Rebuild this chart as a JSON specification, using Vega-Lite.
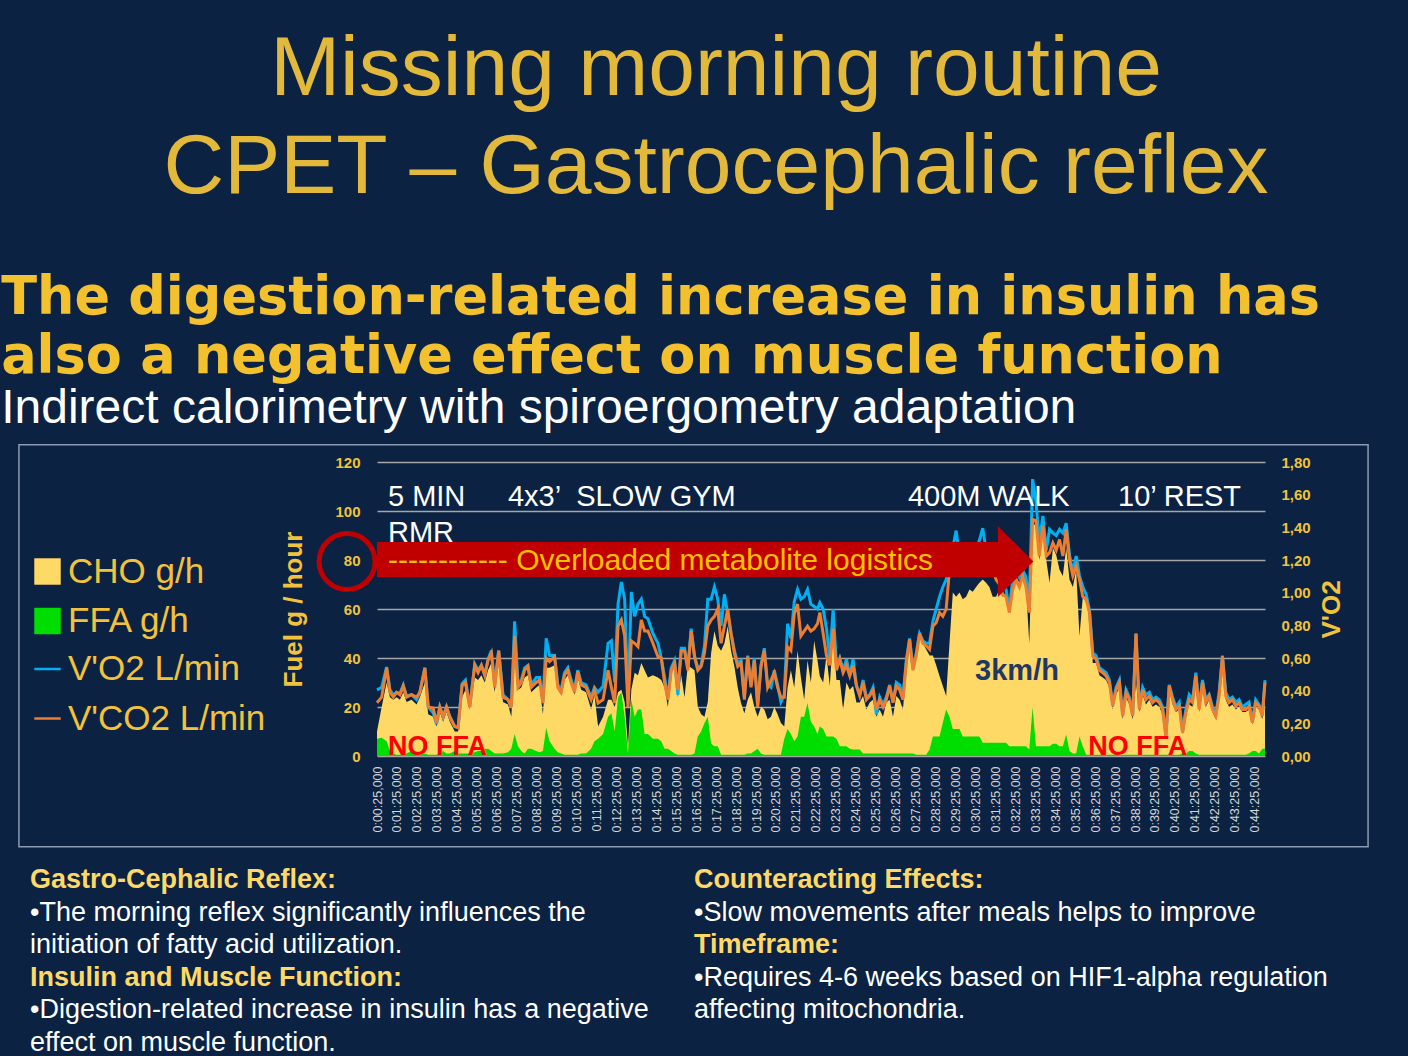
{
  "$schema": "https://vega.github.io/schema/vega-lite/v6.json",
  "background": "#0b2243",
  "padding": {"left": 1, "top": 27, "right": 40, "bottom": 10},
  "config": {
    "view": {"stroke": null},
    "font": "Liberation Sans",
    "axisX": {"labelOverlap": false},
    "axisY": {"labelOverlap": false}
  },
  "title": {
    "text": ["Missing morning routine", "CPET – Gastrocephalic reflex"],
    "font": "Liberation Sans", "fontSize": 84, "fontWeight": "normal", "color": "#e2b93b",
    "lineHeight": 98, "anchor": "middle", "offset": 61, "dx": 31
  },
  "datasets": {
    "fuel": [
      {"t":25,"cho":10,"ffa":7,"vo2":0.405,"vco2":0.326},
      {"t":39,"cho":20,"ffa":7.5,"vo2":0.42,"vco2":0.36},
      {"t":54,"cho":30,"ffa":6,"vo2":0.545,"vco2":0.54},
      {"t":64,"cho":24,"ffa":2,"vo2":0.405,"vco2":0.39},
      {"t":74,"cho":23,"ffa":1,"vo2":0.375,"vco2":0.36},
      {"t":84,"cho":24,"ffa":0.5,"vo2":0.39,"vco2":0.39},
      {"t":94,"cho":23,"ffa":0.5,"vo2":0.383,"vco2":0.375},
      {"t":104,"cho":26,"ffa":0.5,"vo2":0.435,"vco2":0.428},
      {"t":114,"cho":22,"ffa":1,"vo2":0.368,"vco2":0.36},
      {"t":129,"cho":23,"ffa":2,"vo2":0.375,"vco2":0.375},
      {"t":144,"cho":21,"ffa":1.5,"vo2":0.345,"vco2":0.36},
      {"t":154,"cho":24,"ffa":1,"vo2":0.39,"vco2":0.39},
      {"t":169,"cho":30,"ffa":1,"vo2":0.54,"vco2":0.54},
      {"t":179,"cho":17,"ffa":0.5,"vo2":0.3,"vco2":0.3},
      {"t":194,"cho":16,"ffa":0.5,"vo2":0.264,"vco2":0.294},
      {"t":204,"cho":12,"ffa":0.5,"vo2":0.195,"vco2":0.203},
      {"t":214,"cho":18,"ffa":1,"vo2":0.3,"vco2":0.3},
      {"t":224,"cho":14,"ffa":2,"vo2":0.24,"vco2":0.24},
      {"t":234,"cho":18,"ffa":1,"vo2":0.3,"vco2":0.3},
      {"t":244,"cho":14,"ffa":1,"vo2":0.24,"vco2":0.24},
      {"t":259,"cho":10,"ffa":2,"vo2":0.18,"vco2":0.18},
      {"t":269,"cho":10,"ffa":1,"vo2":0.173,"vco2":0.173},
      {"t":281,"cho":24,"ffa":1,"vo2":0.443,"vco2":0.435},
      {"t":291,"cho":27,"ffa":1,"vo2":0.465,"vco2":0.45},
      {"t":304,"cho":19,"ffa":1,"vo2":0.3,"vco2":0.3},
      {"t":319,"cho":32,"ffa":1.5,"vo2":0.563,"vco2":0.555},
      {"t":329,"cho":31,"ffa":2,"vo2":0.525,"vco2":0.51},
      {"t":339,"cho":33,"ffa":2,"vo2":0.555,"vco2":0.555},
      {"t":349,"cho":30,"ffa":3,"vo2":0.495,"vco2":0.495},
      {"t":359,"cho":35,"ffa":3,"vo2":0.593,"vco2":0.585},
      {"t":369,"cho":38,"ffa":2,"vo2":0.645,"vco2":0.63},
      {"t":379,"cho":26,"ffa":1,"vo2":0.435,"vco2":0.42},
      {"t":391,"cho":39,"ffa":1,"vo2":0.645,"vco2":0.645},
      {"t":404,"cho":22,"ffa":1,"vo2":0.375,"vco2":0.36},
      {"t":419,"cho":21,"ffa":1.5,"vo2":0.345,"vco2":0.345},
      {"t":429,"cho":16,"ffa":3,"vo2":0.3,"vco2":0.3},
      {"t":439,"cho":40,"ffa":9,"vo2":0.825,"vco2":0.735},
      {"t":449,"cho":27,"ffa":4,"vo2":0.45,"vco2":0.42},
      {"t":459,"cho":28,"ffa":2,"vo2":0.465,"vco2":0.45},
      {"t":469,"cho":32,"ffa":1,"vo2":0.54,"vco2":0.525},
      {"t":479,"cho":33,"ffa":3,"vo2":0.555,"vco2":0.548},
      {"t":489,"cho":26,"ffa":3,"vo2":0.435,"vco2":0.42},
      {"t":504,"cho":28,"ffa":2,"vo2":0.48,"vco2":0.45},
      {"t":514,"cho":29,"ffa":1.5,"vo2":0.48,"vco2":0.465},
      {"t":524,"cho":17,"ffa":2,"vo2":0.33,"vco2":0.324},
      {"t":534,"cho":36,"ffa":11.5,"vo2":0.72,"vco2":0.6},
      {"t":544,"cho":36,"ffa":6,"vo2":0.615,"vco2":0.578},
      {"t":559,"cho":37,"ffa":3,"vo2":0.615,"vco2":0.608},
      {"t":569,"cho":27,"ffa":1.5,"vo2":0.435,"vco2":0.42},
      {"t":579,"cho":25,"ffa":1,"vo2":0.405,"vco2":0.39},
      {"t":589,"cho":31,"ffa":0.5,"vo2":0.51,"vco2":0.495},
      {"t":599,"cho":33,"ffa":0.5,"vo2":0.54,"vco2":0.525},
      {"t":609,"cho":29,"ffa":0.5,"vo2":0.465,"vco2":0.45},
      {"t":619,"cho":25,"ffa":0.5,"vo2":0.405,"vco2":0.39},
      {"t":629,"cho":32,"ffa":0.5,"vo2":0.525,"vco2":0.518},
      {"t":639,"cho":27,"ffa":1,"vo2":0.45,"vco2":0.435},
      {"t":654,"cho":26,"ffa":1,"vo2":0.435,"vco2":0.42},
      {"t":669,"cho":19,"ffa":3,"vo2":0.36,"vco2":0.345},
      {"t":679,"cho":25,"ffa":6,"vo2":0.42,"vco2":0.405},
      {"t":690,"cho":12,"ffa":7,"vo2":0.39,"vco2":0.324},
      {"t":705,"cho":16,"ffa":9,"vo2":0.428,"vco2":0.345},
      {"t":720,"cho":23,"ffa":16,"vo2":0.69,"vco2":0.525},
      {"t":730,"cho":23,"ffa":17.5,"vo2":0.705,"vco2":0.42},
      {"t":740,"cho":20,"ffa":10,"vo2":0.45,"vco2":0.324},
      {"t":750,"cho":26,"ffa":24,"vo2":0.93,"vco2":0.795},
      {"t":760,"cho":27,"ffa":26,"vo2":1.065,"vco2":0.833},
      {"t":770,"cho":22,"ffa":16,"vo2":0.96,"vco2":0.735},
      {"t":780,"cho":4,"ffa":1,"vo2":0.345,"vco2":0.3},
      {"t":790,"cho":27,"ffa":23,"vo2":1.005,"vco2":0.705},
      {"t":800,"cho":34,"ffa":16,"vo2":0.855,"vco2":0.69},
      {"t":810,"cho":33,"ffa":19,"vo2":0.93,"vco2":0.669},
      {"t":820,"cho":38,"ffa":19,"vo2":0.96,"vco2":0.833},
      {"t":830,"cho":35,"ffa":9,"vo2":0.855,"vco2":0.765},
      {"t":840,"cho":32,"ffa":9,"vo2":0.84,"vco2":0.765},
      {"t":855,"cho":33,"ffa":7,"vo2":0.75,"vco2":0.69},
      {"t":870,"cho":32,"ffa":7,"vo2":0.69,"vco2":0.608},
      {"t":880,"cho":31,"ffa":6,"vo2":0.6,"vco2":0.6},
      {"t":890,"cho":28,"ffa":3,"vo2":0.48,"vco2":0.45},
      {"t":900,"cho":20,"ffa":3,"vo2":0.36,"vco2":0.345},
      {"t":910,"cho":34,"ffa":2,"vo2":0.54,"vco2":0.525},
      {"t":920,"cho":36,"ffa":1,"vo2":0.585,"vco2":0.57},
      {"t":930,"cho":24,"ffa":0.5,"vo2":0.375,"vco2":0.405},
      {"t":940,"cho":33,"ffa":0.5,"vo2":0.66,"vco2":0.645},
      {"t":950,"cho":24,"ffa":0.5,"vo2":0.66,"vco2":0.645},
      {"t":960,"cho":37,"ffa":0.5,"vo2":0.54,"vco2":0.525},
      {"t":970,"cho":36,"ffa":0.5,"vo2":0.78,"vco2":0.765},
      {"t":980,"cho":35,"ffa":1,"vo2":0.615,"vco2":0.608},
      {"t":990,"cho":20,"ffa":8,"vo2":0.54,"vco2":0.525},
      {"t":1000,"cho":17,"ffa":10,"vo2":0.555,"vco2":0.548},
      {"t":1010,"cho":16,"ffa":13.5,"vo2":0.675,"vco2":0.63},
      {"t":1020,"cho":22,"ffa":16,"vo2":0.96,"vco2":0.795},
      {"t":1030,"cho":42,"ffa":5,"vo2":0.96,"vco2":0.833},
      {"t":1040,"cho":51,"ffa":4,"vo2":1.035,"vco2":0.855},
      {"t":1050,"cho":45,"ffa":4,"vo2":0.96,"vco2":0.9},
      {"t":1060,"cho":43,"ffa":0.5,"vo2":0.795,"vco2":0.69},
      {"t":1070,"cho":46,"ffa":0.5,"vo2":0.99,"vco2":0.795},
      {"t":1080,"cho":53,"ffa":0.5,"vo2":0.87,"vco2":0.9},
      {"t":1090,"cho":43,"ffa":0.5,"vo2":0.75,"vco2":0.75},
      {"t":1100,"cho":36.5,"ffa":0.5,"vo2":0.645,"vco2":0.63},
      {"t":1110,"cho":28,"ffa":0.5,"vo2":0.57,"vco2":0.548},
      {"t":1120,"cho":21.6,"ffa":0.5,"vo2":0.585,"vco2":0.57},
      {"t":1130,"cho":17.5,"ffa":0.5,"vo2":0.36,"vco2":0.345},
      {"t":1140,"cho":23,"ffa":1,"vo2":0.615,"vco2":0.608},
      {"t":1150,"cho":26,"ffa":1,"vo2":0.435,"vco2":0.42},
      {"t":1160,"cho":20,"ffa":2,"vo2":0.6,"vco2":0.585},
      {"t":1170,"cho":16,"ffa":3,"vo2":0.315,"vco2":0.3},
      {"t":1180,"cho":20,"ffa":1,"vo2":0.555,"vco2":0.548},
      {"t":1190,"cho":19,"ffa":0.5,"vo2":0.66,"vco2":0.645},
      {"t":1200,"cho":15,"ffa":0.5,"vo2":0.435,"vco2":0.42},
      {"t":1210,"cho":16,"ffa":0.5,"vo2":0.42,"vco2":0.465},
      {"t":1220,"cho":20,"ffa":0.5,"vo2":0.525,"vco2":0.51},
      {"t":1230,"cho":17,"ffa":0.5,"vo2":0.435,"vco2":0.42},
      {"t":1240,"cho":13.5,"ffa":0.5,"vo2":0.33,"vco2":0.36},
      {"t":1250,"cho":12,"ffa":7,"vo2":0.375,"vco2":0.36},
      {"t":1260,"cho":28,"ffa":11,"vo2":0.81,"vco2":0.669},
      {"t":1270,"cho":35,"ffa":9,"vo2":0.72,"vco2":0.645},
      {"t":1280,"cho":28,"ffa":6,"vo2":0.945,"vco2":0.87},
      {"t":1290,"cho":43,"ffa":8,"vo2":1.02,"vco2":0.93},
      {"t":1300,"cho":32,"ffa":16,"vo2":0.96,"vco2":0.735},
      {"t":1310,"cho":23,"ffa":16,"vo2":0.975,"vco2":0.765},
      {"t":1320,"cho":39,"ffa":21.6,"vo2":1.02,"vco2":0.795},
      {"t":1330,"cho":30,"ffa":14,"vo2":0.93,"vco2":0.765},
      {"t":1340,"cho":47,"ffa":12,"vo2":0.915,"vco2":0.78},
      {"t":1350,"cho":39,"ffa":9,"vo2":0.9,"vco2":0.81},
      {"t":1357,"cho":32.6,"ffa":12,"vo2":0.939,"vco2":0.878},
      {"t":1367,"cho":30,"ffa":11,"vo2":0.9,"vco2":0.75},
      {"t":1377,"cho":41,"ffa":8,"vo2":0.78,"vco2":0.615},
      {"t":1387,"cho":28.6,"ffa":8,"vo2":0.593,"vco2":0.555},
      {"t":1397,"cho":50,"ffa":8,"vo2":0.9,"vco2":0.78},
      {"t":1407,"cho":31,"ffa":7,"vo2":0.555,"vco2":0.525},
      {"t":1417,"cho":31,"ffa":4,"vo2":0.6,"vco2":0.593},
      {"t":1427,"cho":19,"ffa":4,"vo2":0.525,"vco2":0.51},
      {"t":1437,"cho":30,"ffa":4,"vo2":0.593,"vco2":0.555},
      {"t":1447,"cho":27,"ffa":3,"vo2":0.495,"vco2":0.49},
      {"t":1457,"cho":28.6,"ffa":2.7,"vo2":0.593,"vco2":0.555},
      {"t":1467,"cho":21.8,"ffa":2.7,"vo2":0.435,"vco2":0.429},
      {"t":1477,"cho":21.8,"ffa":2.7,"vo2":0.375,"vco2":0.368},
      {"t":1487,"cho":24.5,"ffa":1,"vo2":0.465,"vco2":0.45},
      {"t":1497,"cho":19,"ffa":1,"vo2":0.36,"vco2":0.345},
      {"t":1507,"cho":21.8,"ffa":1,"vo2":0.375,"vco2":0.368},
      {"t":1517,"cho":23,"ffa":1,"vo2":0.42,"vco2":0.405},
      {"t":1527,"cho":16,"ffa":1,"vo2":0.255,"vco2":0.285},
      {"t":1537,"cho":19,"ffa":1,"vo2":0.36,"vco2":0.345},
      {"t":1547,"cho":16,"ffa":1,"vo2":0.315,"vco2":0.3},
      {"t":1557,"cho":21.8,"ffa":1,"vo2":0.36,"vco2":0.345},
      {"t":1567,"cho":23,"ffa":1,"vo2":0.435,"vco2":0.429},
      {"t":1577,"cho":16,"ffa":1,"vo2":0.33,"vco2":0.327},
      {"t":1587,"cho":24.5,"ffa":1,"vo2":0.45,"vco2":0.429},
      {"t":1597,"cho":23,"ffa":1,"vo2":0.435,"vco2":0.405},
      {"t":1607,"cho":19,"ffa":1,"vo2":0.36,"vco2":0.345},
      {"t":1617,"cho":35,"ffa":1,"vo2":0.585,"vco2":0.57},
      {"t":1627,"cho":47,"ffa":1,"vo2":0.72,"vco2":0.714},
      {"t":1637,"cho":35,"ffa":1,"vo2":0.54,"vco2":0.525},
      {"t":1647,"cho":40,"ffa":0.5,"vo2":0.63,"vco2":0.615},
      {"t":1657,"cho":49,"ffa":0.5,"vo2":0.75,"vco2":0.75},
      {"t":1667,"cho":46,"ffa":0.5,"vo2":0.705,"vco2":0.69},
      {"t":1677,"cho":43.5,"ffa":0.5,"vo2":0.69,"vco2":0.675},
      {"t":1687,"cho":41,"ffa":2.7,"vo2":0.69,"vco2":0.653},
      {"t":1697,"cho":41,"ffa":8,"vo2":0.825,"vco2":0.795},
      {"t":1707,"cho":37,"ffa":8,"vo2":0.9,"vco2":0.816},
      {"t":1717,"cho":32.7,"ffa":8,"vo2":0.975,"vco2":0.878},
      {"t":1727,"cho":28.6,"ffa":13.6,"vo2":1.035,"vco2":0.855},
      {"t":1737,"cho":24.5,"ffa":19,"vo2":1.08,"vco2":0.9},
      {"t":1747,"cho":46,"ffa":16,"vo2":1.2,"vco2":1.14},
      {"t":1757,"cho":66.7,"ffa":11,"vo2":1.275,"vco2":1.2},
      {"t":1767,"cho":65,"ffa":11,"vo2":1.38,"vco2":1.23},
      {"t":1777,"cho":66.7,"ffa":11,"vo2":1.23,"vco2":1.17},
      {"t":1787,"cho":64,"ffa":8,"vo2":1.2,"vco2":1.14},
      {"t":1797,"cho":65,"ffa":8,"vo2":1.23,"vco2":1.17},
      {"t":1807,"cho":68,"ffa":8,"vo2":1.26,"vco2":1.2},
      {"t":1817,"cho":67,"ffa":8,"vo2":1.245,"vco2":1.185},
      {"t":1827,"cho":69,"ffa":8,"vo2":1.275,"vco2":1.215},
      {"t":1837,"cho":70.7,"ffa":8,"vo2":1.32,"vco2":1.26},
      {"t":1847,"cho":72,"ffa":5.4,"vo2":1.395,"vco2":1.275},
      {"t":1857,"cho":70.7,"ffa":5.4,"vo2":1.26,"vco2":1.2},
      {"t":1867,"cho":69,"ffa":5.4,"vo2":1.23,"vco2":1.17},
      {"t":1877,"cho":65,"ffa":5.4,"vo2":1.2,"vco2":1.14},
      {"t":1887,"cho":65,"ffa":5.4,"vo2":1.14,"vco2":1.08},
      {"t":1897,"cho":68,"ffa":5.4,"vo2":1.11,"vco2":1.05},
      {"t":1907,"cho":65,"ffa":5.4,"vo2":1.05,"vco2":0.99},
      {"t":1917,"cho":66,"ffa":5.4,"vo2":1.02,"vco2":0.975},
      {"t":1927,"cho":58.5,"ffa":4,"vo2":0.9,"vco2":0.878},
      {"t":1937,"cho":72,"ffa":4,"vo2":1.08,"vco2":1.02},
      {"t":1947,"cho":73.5,"ffa":4,"vo2":1.14,"vco2":1.08},
      {"t":1957,"cho":70.7,"ffa":4,"vo2":1.095,"vco2":1.035},
      {"t":1967,"cho":72,"ffa":4,"vo2":1.14,"vco2":1.103},
      {"t":1977,"cho":69,"ffa":4,"vo2":1.095,"vco2":1.035},
      {"t":1987,"cho":46,"ffa":2.7,"vo2":0.93,"vco2":0.878},
      {"t":1997,"cho":95,"ffa":20,"vo2":1.695,"vco2":1.449},
      {"t":2007,"cho":94,"ffa":4,"vo2":1.56,"vco2":1.44},
      {"t":2017,"cho":80,"ffa":4,"vo2":1.32,"vco2":1.224},
      {"t":2028,"cho":92.5,"ffa":4,"vo2":1.47,"vco2":1.41},
      {"t":2038,"cho":80,"ffa":4,"vo2":1.26,"vco2":1.224},
      {"t":2048,"cho":70.7,"ffa":4,"vo2":1.388,"vco2":1.245},
      {"t":2058,"cho":85,"ffa":5,"vo2":1.365,"vco2":1.305},
      {"t":2068,"cho":82,"ffa":5,"vo2":1.35,"vco2":1.26},
      {"t":2078,"cho":76,"ffa":4,"vo2":1.388,"vco2":1.326},
      {"t":2088,"cho":73.5,"ffa":4,"vo2":1.365,"vco2":1.224},
      {"t":2098,"cho":85,"ffa":8.8,"vo2":1.425,"vco2":1.388},
      {"t":2108,"cho":72,"ffa":2,"vo2":1.23,"vco2":1.2},
      {"t":2118,"cho":69,"ffa":1,"vo2":1.125,"vco2":1.103},
      {"t":2128,"cho":76,"ffa":1,"vo2":1.224,"vco2":1.163},
      {"t":2138,"cho":49,"ffa":8,"vo2":1.103,"vco2":1.08},
      {"t":2148,"cho":65,"ffa":4,"vo2":1.035,"vco2":0.975},
      {"t":2158,"cho":62.6,"ffa":0.5,"vo2":0.99,"vco2":0.96},
      {"t":2168,"cho":58.5,"ffa":0.5,"vo2":0.893,"vco2":0.878},
      {"t":2178,"cho":38,"ffa":0.5,"vo2":0.63,"vco2":0.612},
      {"t":2188,"cho":38,"ffa":0.5,"vo2":0.615,"vco2":0.593},
      {"t":2198,"cho":33,"ffa":0.5,"vo2":0.54,"vco2":0.525},
      {"t":2208,"cho":32,"ffa":0.5,"vo2":0.525,"vco2":0.51},
      {"t":2218,"cho":31,"ffa":0.5,"vo2":0.51,"vco2":0.49},
      {"t":2228,"cho":28,"ffa":0.5,"vo2":0.465,"vco2":0.45},
      {"t":2238,"cho":19,"ffa":0.5,"vo2":0.315,"vco2":0.306},
      {"t":2248,"cho":25,"ffa":0.5,"vo2":0.42,"vco2":0.405},
      {"t":2258,"cho":28,"ffa":0.5,"vo2":0.465,"vco2":0.45},
      {"t":2268,"cho":15,"ffa":0.5,"vo2":0.255,"vco2":0.245},
      {"t":2278,"cho":24,"ffa":0.5,"vo2":0.405,"vco2":0.389},
      {"t":2288,"cho":21,"ffa":0.5,"vo2":0.36,"vco2":0.345},
      {"t":2298,"cho":15,"ffa":0.5,"vo2":0.255,"vco2":0.245},
      {"t":2308,"cho":30,"ffa":0.5,"vo2":0.75,"vco2":0.75},
      {"t":2318,"cho":18,"ffa":0.5,"vo2":0.3,"vco2":0.285},
      {"t":2328,"cho":25,"ffa":0.5,"vo2":0.42,"vco2":0.405},
      {"t":2338,"cho":21,"ffa":0.5,"vo2":0.375,"vco2":0.345},
      {"t":2348,"cho":23,"ffa":0.5,"vo2":0.39,"vco2":0.368},
      {"t":2358,"cho":20,"ffa":0.5,"vo2":0.345,"vco2":0.327},
      {"t":2368,"cho":21,"ffa":0.5,"vo2":0.36,"vco2":0.345},
      {"t":2378,"cho":20,"ffa":0.5,"vo2":0.345,"vco2":0.327},
      {"t":2388,"cho":17,"ffa":0.5,"vo2":0.3,"vco2":0.285},
      {"t":2398,"cho":8,"ffa":0.5,"vo2":0.12,"vco2":0.12},
      {"t":2408,"cho":27,"ffa":0.5,"vo2":0.435,"vco2":0.429},
      {"t":2418,"cho":21,"ffa":0.5,"vo2":0.36,"vco2":0.345},
      {"t":2428,"cho":18,"ffa":0.5,"vo2":0.3,"vco2":0.285},
      {"t":2438,"cho":19,"ffa":0.5,"vo2":0.33,"vco2":0.306},
      {"t":2448,"cho":9,"ffa":1,"vo2":0.15,"vco2":0.143},
      {"t":2458,"cho":16,"ffa":1,"vo2":0.285,"vco2":0.266},
      {"t":2468,"cho":21,"ffa":2,"vo2":0.375,"vco2":0.345},
      {"t":2478,"cho":20,"ffa":2,"vo2":0.345,"vco2":0.327},
      {"t":2488,"cho":30,"ffa":1,"vo2":0.51,"vco2":0.49},
      {"t":2498,"cho":18,"ffa":0.5,"vo2":0.3,"vco2":0.285},
      {"t":2508,"cho":28,"ffa":0.5,"vo2":0.465,"vco2":0.45},
      {"t":2518,"cho":20,"ffa":0.5,"vo2":0.345,"vco2":0.327},
      {"t":2528,"cho":23,"ffa":0.5,"vo2":0.375,"vco2":0.368},
      {"t":2538,"cho":18,"ffa":0.5,"vo2":0.3,"vco2":0.285},
      {"t":2548,"cho":15,"ffa":0.5,"vo2":0.255,"vco2":0.245},
      {"t":2558,"cho":23,"ffa":0.5,"vo2":0.39,"vco2":0.368},
      {"t":2568,"cho":37,"ffa":0.5,"vo2":0.615,"vco2":0.612},
      {"t":2578,"cho":23,"ffa":0.5,"vo2":0.39,"vco2":0.368},
      {"t":2588,"cho":20,"ffa":0.5,"vo2":0.345,"vco2":0.327},
      {"t":2598,"cho":21,"ffa":0.5,"vo2":0.36,"vco2":0.345},
      {"t":2608,"cho":19,"ffa":0.5,"vo2":0.33,"vco2":0.306},
      {"t":2618,"cho":20,"ffa":0.5,"vo2":0.345,"vco2":0.327},
      {"t":2628,"cho":18,"ffa":0.5,"vo2":0.3,"vco2":0.285},
      {"t":2638,"cho":18,"ffa":0.5,"vo2":0.315,"vco2":0.285},
      {"t":2648,"cho":19,"ffa":1,"vo2":0.33,"vco2":0.306},
      {"t":2658,"cho":13,"ffa":2,"vo2":0.21,"vco2":0.204},
      {"t":2668,"cho":20,"ffa":2,"vo2":0.345,"vco2":0.327},
      {"t":2678,"cho":19,"ffa":1,"vo2":0.315,"vco2":0.306},
      {"t":2688,"cho":15,"ffa":3,"vo2":0.255,"vco2":0.245},
      {"t":2696,"cho":28,"ffa":3,"vo2":0.465,"vco2":0.45}
    ],
    "phases": [
      {"t": 58, "v": 102, "label": "5 MIN"},
      {"t": 419, "v": 102, "label": "4x3’ \u00a0SLOW GYM"},
      {"t": 1622, "v": 102, "label": "400M WALK"},
      {"t": 2254, "v": 102, "label": "10’ REST"},
      {"t": 58, "v": 87.5, "label": "RMR"}
    ],
    "noffa": [
      {"t": 58, "v": 0.3, "label": "NO FFA"},
      {"t": 2164, "v": 0.3, "label": "NO FFA"}
    ],
    "notesleft": [
      {"line": 0, "txt": "Gastro-Cephalic Reflex:", "head": true},
      {"line": 1, "txt": "•The morning reflex significantly influences the", "head": false},
      {"line": 2, "txt": "initiation of fatty acid utilization.", "head": false},
      {"line": 3, "txt": "Insulin and Muscle Function:", "head": true},
      {"line": 4, "txt": "•Digestion-related increase in insulin has a negative", "head": false},
      {"line": 5, "txt": "effect on muscle function.", "head": false}
    ],
    "notesright": [
      {"line": 0, "txt": "Counteracting Effects:", "head": true},
      {"line": 1, "txt": "•Slow movements after meals helps to improve", "head": false},
      {"line": 2, "txt": "Timeframe:", "head": true},
      {"line": 3, "txt": "•Requires 4-6 weeks based on HIF1-alpha regulation", "head": false},
      {"line": 4, "txt": "affecting mitochondria.", "head": false}
    ]
  },
  "resolve": {"scale": {"x": "independent", "y": "independent"}},
  "spacing": 18,
  "vconcat": [
    {
      "title": {
        "text": ["The digestion-related increase in insulin has", "also a negative effect on muscle function"],
        "subtitle": "Indirect calorimetry with spiroergometry adaptation",
        "anchor": "start", "frame": "bounds",
        "font": "DejaVu Sans", "fontSize": 52.5, "fontWeight": "bold", "color": "#f4c12e", "lineHeight": 59,
        "subtitleFont": "Liberation Sans", "subtitleFontSize": 48, "subtitleColor": "#ffffff",
        "subtitlePadding": 1, "offset": 10, "dx": -17
      },
      "width": 888,
      "height": 294,
      "data": {"name": "fuel"},
      "resolve": {"scale": {"y": "independent"}, "axis": {"y": "independent"}},
      "layer": [
        {
          "layer": [
            {
              "mark": {"type": "area", "interpolate": "linear"},
              "encoding": {
                "x": {
                  "field": "t", "type": "quantitative",
                  "scale": {"domain": [25, 2696], "nice": false, "zero": false},
                  "axis": {
                    "title": null, "grid": false, "domain": false, "ticks": false, "tickCount": 60,
                    "values": [25,85,145,205,265,325,385,445,505,565,625,685,745,805,865,925,985,1045,1105,1165,1225,1285,1345,1405,1465,1525,1585,1645,1705,1765,1825,1885,1945,2005,2065,2125,2185,2245,2305,2365,2425,2485,2545,2605,2665],
                    "labelExpr": "'0:' + (datum.value < 625 ? '0' : '') + floor(datum.value / 60) + ':25,000'",
                    "labelAngle": 270, "labelFontSize": 12.5, "labelColor": "#d6d6d6",
                    "labelPadding": 10, "labelOverlap": false, "labelFlush": false, "labelBound": false
                  }
                },
                "y": {
                  "field": "cho", "type": "quantitative",
                  "scale": {"domain": [0, 120], "nice": false},
                  "axis": {
                    "title": "Fuel g / hour", "titleColor": "#f2c23c", "titleFontSize": 26,
                    "titleFontWeight": "bold", "titlePadding": 28, "tickCount": 10,
                    "values": [0, 20, 40, 60, 80, 100, 120],
                    "labelColor": "#f2c23c", "labelFontSize": 15, "labelFontWeight": "bold", "labelPadding": 17,
                    "grid": true, "gridColor": "#a6a6a6", "gridWidth": 1.3, "domain": false, "ticks": false
                  }
                },
                "fill": {
                  "datum": "CHO g/h",
                  "scale": {"domain": ["CHO g/h", "FFA g/h"], "range": ["#ffd966", "#00dd00"]},
                  "legend": {
                    "orient": "none", "legendX": -347, "legendY": 92, "title": null,
                    "labelFontSize": 35, "labelColor": "#f2c23c", "labelFont": "Liberation Sans", "labelLimit": 400,
                    "symbolType": "square", "symbolSize": 700, "symbolStrokeWidth": 0,
                    "rowPadding": 13.5, "labelOffset": 3
                  }
                }
              }
            },
            {
              "mark": {"type": "area", "interpolate": "linear"},
              "encoding": {
                "x": {"field": "t", "type": "quantitative"},
                "y": {"field": "ffa", "type": "quantitative"},
                "fill": {"datum": "FFA g/h"}
              }
            }
          ]
        },
        {
          "layer": [
            {
              "mark": {"type": "line", "strokeWidth": 3},
              "encoding": {
                "x": {"field": "t", "type": "quantitative"},
                "y": {
                  "field": "vo2", "type": "quantitative",
                  "scale": {"domain": [0, 1.8], "nice": false},
                  "axis": {
                    "orient": "right", "title": "V'O2", "titleAngle": 270, "titleBaseline": "top",
                    "titleColor": "#f2c23c", "titleFontSize": 26, "titleFontWeight": "bold", "titlePadding": 8,
                    "tickCount": 12,
                    "values": [0, 0.2, 0.4, 0.6, 0.8, 1, 1.2, 1.4, 1.6, 1.8],
                    "labelExpr": "replace(format(datum.value, '.2f'), '.', ',')",
                    "labelColor": "#f2c23c", "labelFontSize": 15, "labelFontWeight": "bold", "labelPadding": 16,
                    "labelOverlap": false, "grid": false, "domain": false, "ticks": false
                  }
                },
                "stroke": {
                  "datum": "V'O2 L/min",
                  "scale": {"domain": ["V'O2 L/min", "V'CO2 L/min"], "range": ["#00b0f0", "#ed7d31"]},
                  "legend": {
                    "orient": "none", "legendX": -347, "legendY": 189.5, "title": null,
                    "labelFontSize": 35, "labelColor": "#f2c23c", "labelFont": "Liberation Sans", "labelLimit": 400,
                    "symbolType": "stroke", "symbolSize": 700, "symbolStrokeWidth": 2.5,
                    "rowPadding": 13.5, "labelOffset": 3
                  }
                }
              }
            },
            {
              "mark": {"type": "line", "strokeWidth": 3},
              "encoding": {
                "x": {"field": "t", "type": "quantitative"},
                "y": {"field": "vco2", "type": "quantitative"},
                "stroke": {"datum": "V'CO2 L/min"}
              }
            }
          ]
        },
        {
          "layer": [
            {
              "data": {"values": [{}]},
              "mark": {"type": "rect", "color": "#c00000"},
              "encoding": {
                "x": {"datum": 25, "type": "quantitative"},
                "x2": {"datum": 1900},
                "y": {"datum": 73, "type": "quantitative", "scale": {"domain": [0, 120], "nice": false}, "axis": null},
                "y2": {"datum": 87.3}
              }
            },
            {
              "data": {"values": [{}]},
              "mark": {"type": "point", "shape": "M-0.5,-1L0.5,0L-0.5,1Z", "filled": true, "size": 5041, "color": "#c00000", "opacity": 1, "strokeWidth": 0},
              "encoding": {
                "x": {"datum": 1946, "type": "quantitative"},
                "y": {"datum": 79.4, "type": "quantitative", "axis": null}
              }
            },
            {
              "data": {"values": [{}]},
              "mark": {"type": "point", "shape": "circle", "filled": false, "size": 3136, "color": "#c00000", "strokeWidth": 5, "opacity": 1},
              "encoding": {
                "x": {"datum": -65, "type": "quantitative"},
                "y": {"datum": 79.4, "type": "quantitative", "axis": null}
              }
            },
            {
              "data": {"values": [{}]},
              "mark": {"type": "text", "align": "left", "baseline": "middle", "fontSize": 30, "color": "#ffc000", "text": "------------ Overloaded metabolite logistics"},
              "encoding": {
                "x": {"datum": 58, "type": "quantitative"},
                "y": {"datum": 79.4, "type": "quantitative", "axis": null}
              }
            },
            {
              "data": {"name": "phases"},
              "mark": {"type": "text", "align": "left", "baseline": "alphabetic", "fontSize": 29, "color": "#ffffff"},
              "encoding": {
                "x": {"field": "t", "type": "quantitative"},
                "y": {"field": "v", "type": "quantitative", "axis": null},
                "text": {"field": "label"}
              }
            },
            {
              "data": {"values": [{}]},
              "mark": {"type": "text", "align": "left", "baseline": "alphabetic", "fontSize": 29, "fontWeight": "bold", "color": "#1f3864", "text": "3km/h"},
              "encoding": {
                "x": {"datum": 1824, "type": "quantitative"},
                "y": {"datum": 31, "type": "quantitative", "axis": null}
              }
            },
            {
              "data": {"name": "noffa"},
              "mark": {"type": "text", "align": "left", "baseline": "alphabetic", "fontSize": 27, "fontWeight": "bold", "color": "#ff0000"},
              "encoding": {
                "x": {"field": "t", "type": "quantitative"},
                "y": {"field": "v", "type": "quantitative", "axis": null},
                "text": {"field": "label"}
              }
            },
            {
              "data": {"values": [{}]},
              "mark": {"type": "rect", "fillOpacity": 0, "stroke": "#8a9bb3", "strokeWidth": 1.5},
              "encoding": {
                "x": {"datum": -1052, "type": "quantitative"},
                "x2": {"datum": 3006},
                "y": {"datum": -37, "type": "quantitative", "axis": null},
                "y2": {"datum": 127}
              }
            }
          ]
        }
      ]
    },
    {
      "resolve": {"scale": {"x": "independent", "y": "independent"}},
      "spacing": 24,
      "hconcat": [
        {
          "width": 293,
          "height": 195,
          "data": {"name": "notesleft"},
          "layer": [
            {
              "transform": [{"filter": "datum.head"}],
              "mark": {"type": "text", "align": "left", "baseline": "top", "fontSize": 27, "fontWeight": "bold", "color": "#ffd966"},
              "encoding": {
                "x": {"datum": -1.1843, "type": "quantitative", "scale": {"domain": [0, 1]}, "axis": null},
                "y": {"field": "line", "type": "quantitative", "scale": {"domain": [0, 6], "reverse": true}, "axis": null},
                "text": {"field": "txt"}
              }
            },
            {
              "transform": [{"filter": "!datum.head"}],
              "mark": {"type": "text", "align": "left", "baseline": "top", "fontSize": 27, "color": "#ffffff"},
              "encoding": {
                "x": {"datum": -1.1843, "type": "quantitative", "axis": null},
                "y": {"field": "line", "type": "quantitative", "axis": null},
                "text": {"field": "txt"}
              }
            }
          ]
        },
        {
          "width": 100,
          "height": 195,
          "data": {"name": "notesright"},
          "layer": [
            {
              "transform": [{"filter": "datum.head"}],
              "mark": {"type": "text", "align": "left", "baseline": "top", "fontSize": 27, "fontWeight": "bold", "color": "#ffd966"},
              "encoding": {
                "x": {"datum": 0, "type": "quantitative", "scale": {"domain": [0, 1]}, "axis": null},
                "y": {"field": "line", "type": "quantitative", "scale": {"domain": [0, 6], "reverse": true}, "axis": null},
                "text": {"field": "txt"}
              }
            },
            {
              "transform": [{"filter": "!datum.head"}],
              "mark": {"type": "text", "align": "left", "baseline": "top", "fontSize": 27, "color": "#ffffff"},
              "encoding": {
                "x": {"datum": 0, "type": "quantitative", "axis": null},
                "y": {"field": "line", "type": "quantitative", "axis": null},
                "text": {"field": "txt"}
              }
            }
          ]
        }
      ]
    }
  ]
}
